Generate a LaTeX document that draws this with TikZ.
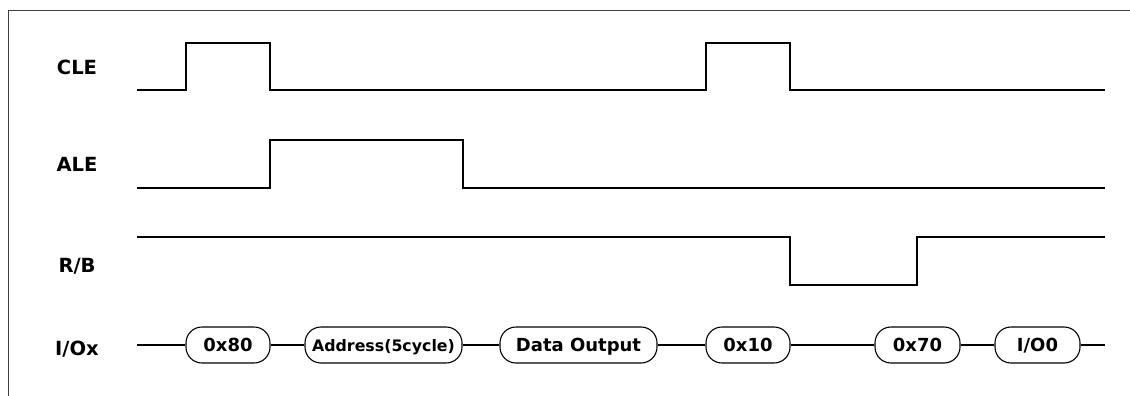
\documentclass[tikz,border=0pt]{standalone}
\usepackage{fontspec}
\setmainfont{DejaVu Sans}
\usetikzlibrary{positioning}

\begin{document}
\begin{tikzpicture}[x=1pt, y=-1pt,
    sig/.style={line width=1.8pt, line join=miter},
    ioline/.style={line width=1.1pt},
    iobox/.style={draw, line width=1.1pt, rounded corners=16pt, minimum height=36pt,
      inner sep=0pt, text height=13pt, text depth=0pt, font=\fontsize{18}{20}\selectfont\bfseries},
    lbl/.style={inner sep=0pt, text height=14pt, text depth=0pt, font=\fontsize{19.5}{22}\selectfont\bfseries}]
      \path[use as bounding box] (0, 0) rectangle (1130, 396);
      \draw[line width=1pt, black!75] (1130, 11) -- (8, 11) -- (8, 396);

      \node[lbl] at (77, 67.5) (cle) {CLE};
      \node[lbl] at (77, 164) (ale) {ALE};
      \node[lbl] at (77, 265) (rb) {R/B};
      \node[lbl] at (77, 348.5) (io) {I/Ox};

      \draw[sig] (137, 90) -- (186, 90) -- (186, 43) -- (270, 43) -- (270, 90)
        -- (706, 90) -- (706, 43) -- (790, 43) -- (790, 90) -- (1105, 90);
      \draw[sig] (137, 188) -- (270, 188) -- (270, 140) -- (463, 140) -- (463, 188) -- (1105, 188);
      \draw[sig] (137, 237) -- (790, 237) -- (790, 285) -- (917, 285) -- (917, 237) -- (1105, 237);

      \coordinate (iostart) at (137, 345);
      \coordinate (ioend) at (1105, 345);
      \node[iobox, minimum width=84pt] at (228, 345) (b80) {0x80};
      \node[iobox, minimum width=157pt, font=\fontsize{15.8}{18}\selectfont\bfseries] at (383.5, 345) (baddr) {Address(5cycle)};
      \node[iobox, minimum width=157pt] at (578.5, 345) (bdata) {Data Output};
      \node[iobox, minimum width=84pt] at (748, 345) (b10) {0x10};
      \node[iobox, minimum width=85pt] at (917.5, 345) (b70) {0x70};
      \node[iobox, minimum width=85pt] at (1037.5, 345) (bio) {I/O0};
      \draw[ioline] (iostart) -- (b80) -- (baddr) -- (bdata) -- (b10) -- (b70) -- (bio) -- (ioend);
    \end{tikzpicture}
\end{document}
